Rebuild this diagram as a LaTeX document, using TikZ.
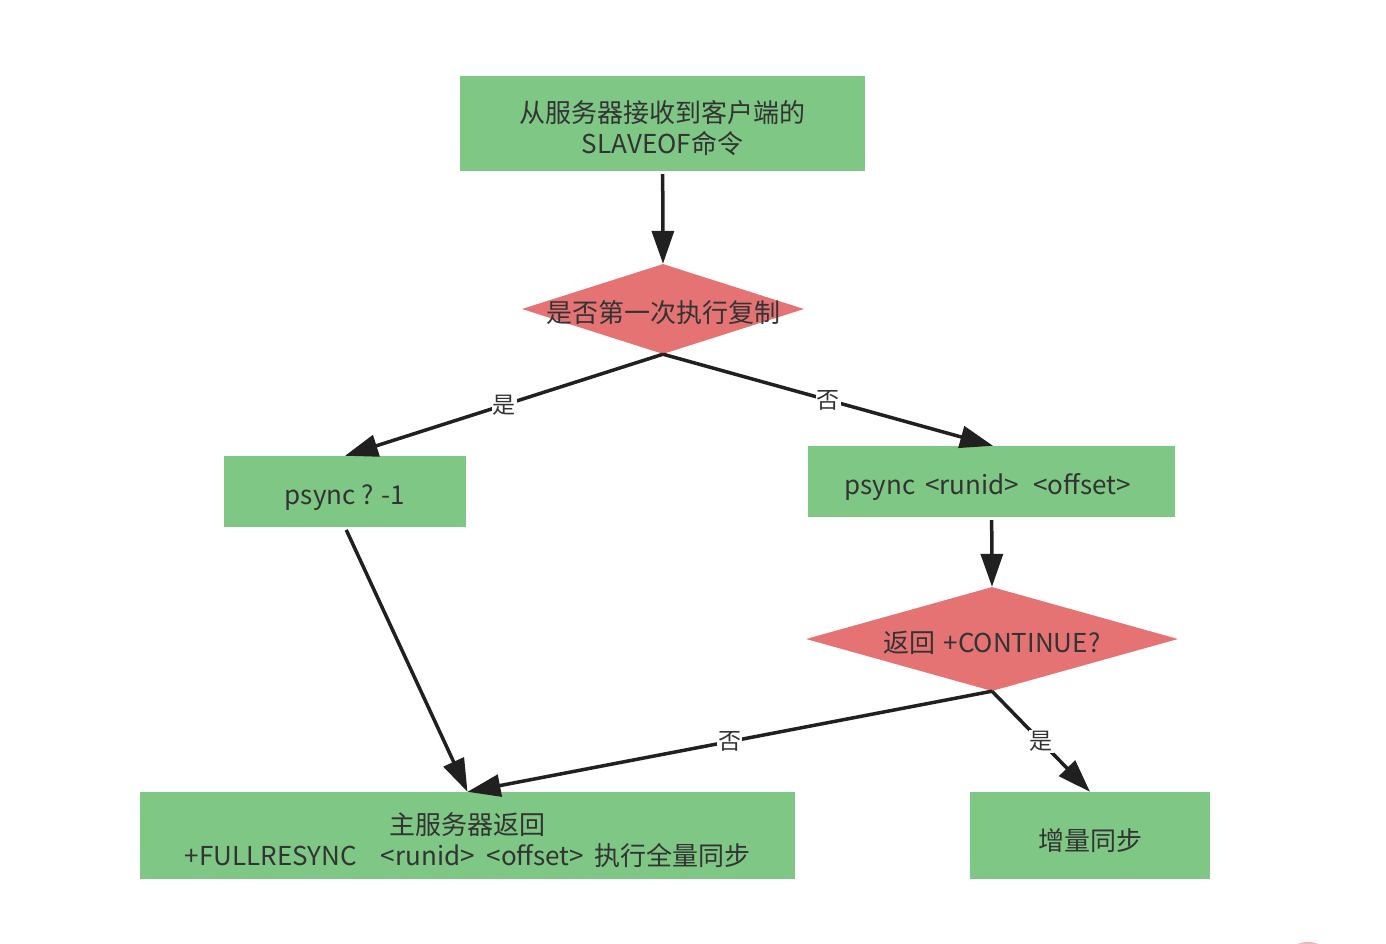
\documentclass[tikz,border=0pt]{standalone}
\usepackage{fontspec}
\setmainfont{Noto Sans CJK SC}
\usepackage{tikz}
\usetikzlibrary{arrows.meta, shapes.geometric}

\definecolor{boxgreen}{HTML}{7EC784}
\definecolor{decred}{HTML}{E57373}
\definecolor{inkgray}{HTML}{333333}
\definecolor{linegray}{HTML}{202020}
\definecolor{markpink}{HTML}{F6B3B3}

% taller first line, so the text sits a little low in its box
\newcommand{\lowstrut}{\rule{0pt}{32pt}}

\begin{document}
\begin{tikzpicture}[x=1pt, y=-1pt, >={Triangle[length=33pt, width=22pt]},
      font=\fontsize{26}{31}\selectfont, text=inkgray,
      stepbox/.style={fill=boxgreen, align=center, inner sep=0pt},
      decide/.style={diamond, fill=decred, inner sep=0pt},
      dtext/.style={text=inkgray, yshift=-4pt},
      flow/.style={->, line width=3.5pt, draw=linegray},
      lab/.style={fill=white, inner sep=1pt, text=inkgray,
        font=\fontsize{23}{26}\selectfont}]
    \useasboundingbox (0,0) rectangle (1386,944);
    \node[stepbox, minimum width=405pt, minimum height=95pt] (top) at (662.5,123.5)
      {\lowstrut 从服务器接收到客户端的\\SLAVEOF命令};
    \node[decide, minimum width=282pt, minimum height=90pt,
      label={[dtext]center:是否第一次执行复制}] (d1) at (663,309) {};
    \node[stepbox, minimum width=242pt, minimum height=71pt] (p1) at (345,491.5)
      {\lowstrut psync ? -1};
    \node[stepbox, minimum width=367pt, minimum height=71pt] (p2) at (991.5,481.5)
      {\lowstrut\hspace*{-8pt}psync\hspace{10pt}<runid>\hspace{14pt}<offset>};
    \node[decide, minimum width=372pt, minimum height=104pt,
      label={[dtext]center:返回\hspace{8pt}+CONTINUE?}] (d2) at (992,639) {};
    \node[stepbox, minimum width=655pt, minimum height=87pt] (full) at (467.5,835.5)
      {\lowstrut 主服务器返回\\+FULLRESYNC\hspace{24pt}<runid>\hspace{12pt}<offset>\hspace{10pt}执行全量同步};
    \node[stepbox, minimum width=240pt, minimum height=87pt] (incr) at (1090,835.5)
      {\lowstrut 增量同步};

    \draw[flow, shorten <=3pt] (top) -- (d1.north);
    \draw[flow] (d1.south) -- node[lab]{是} (p1.north);
    \draw[flow] (d1.south) -- node[lab]{否} ([xshift=1.5pt]p2.north);
    \draw[flow, shorten <=3pt] (p2) -- (d2.north);
    \draw[flow, shorten <=3pt] (p1.south) -- (full.north);
    \draw[flow] (d2.south) -- node[lab]{否} (full.north);
    \draw[flow] (d2.south) -- node[lab]{是} (incr.north);

    % bit of a mark cut by the lower edge
    \begin{scope}
      \clip (0,0) rectangle (1386,944);
      \fill[markpink] (1308,970) circle (28);
    \end{scope}
  \end{tikzpicture}
\end{document}
